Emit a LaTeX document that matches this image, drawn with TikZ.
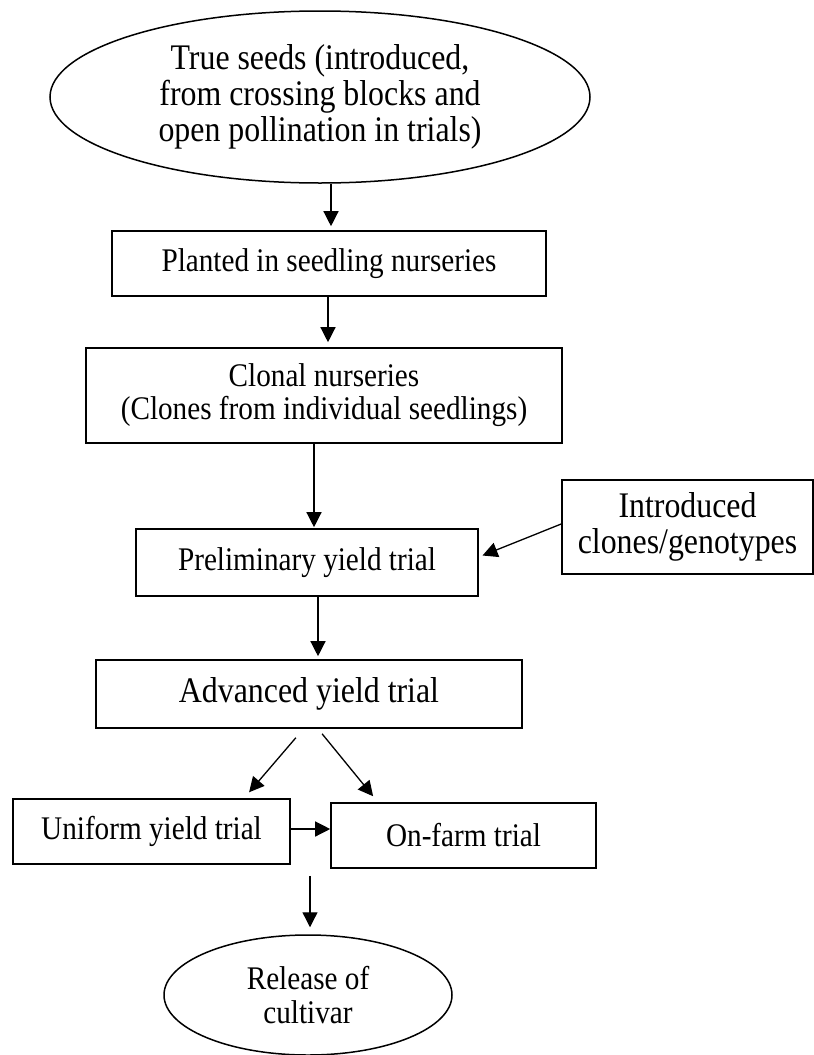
\documentclass[tikz,border=0pt]{standalone}
\usepackage{fontspec}
\setmainfont{Liberation Serif}[FakeStretch=0.885]
\usetikzlibrary{shapes.geometric,arrows.meta}
\begin{document}
\begin{tikzpicture}[x=1pt,y=-1pt,
  box/.style={draw,line width=1.6pt,rectangle,inner sep=0pt,align=center,font=\fontsize{33}{33}\selectfont},
  bigbox/.style={box,font=\fontsize{36}{36}\selectfont},
  oval/.style={draw,line width=1.5pt,ellipse,inner sep=0pt,align=center},
  arr/.style={-{Triangle[length=15pt,width=15pt]},line width=1.3pt}]
\useasboundingbox (0,0) rectangle (814,1055);
% nodes
\node[oval,minimum width=540pt,minimum height=172pt,font=\fontsize{36}{36}\selectfont] (seeds) at (320,97)
  {True seeds (introduced,\\from crossing blocks and\\open pollination in trials)};
\node[box,minimum width=434pt,minimum height=65pt] (plant) at (329,263.5) {Planted in seedling nurseries};
\node[box,minimum width=476pt,minimum height=95pt] (clonal) at (324,395.5) {Clonal nurseries\\(Clones from individual seedlings)};
\node[box,minimum width=342pt,minimum height=67pt] (prelim) at (307,562.5) {Preliminary yield trial};
\node[bigbox,minimum width=251pt,minimum height=94pt] (intro) at (687.5,527) {Introduced\\clones/genotypes};
\node[bigbox,minimum width=426pt,minimum height=68pt] (adv) at (309,694) {Advanced yield trial};
\node[box,minimum width=277pt,minimum height=65pt] (unif) at (151.5,831.5) {Uniform yield trial};
\node[box,minimum width=265pt,minimum height=65pt] (farm) at (463.5,835.5) {On-farm trial};
\node[oval,minimum width=288pt,minimum height=120pt,font=\fontsize{33}{34}\selectfont] (rel) at (308,995) {Release of\\cultivar};
% connectors
\draw[arr,shorten >=4pt] (seeds.south -| 331,0) -- (plant.north -| 331,0);
\draw[arr,shorten >=5pt] (plant.south -| 328,0) -- (clonal.north -| 328,0);
\draw[arr,shorten >=1pt] (clonal.south -| 314,0) -- (prelim.north -| 314,0);
\draw[arr,shorten >=4pt] (intro.west |- 0,524) -- (prelim.east |- 0,557);
\draw[arr,shorten >=3pt] (prelim.south -| 318,0) -- (adv.north -| 318,0);
\draw[arr,shorten <=11.7pt,shorten >=7.8pt] (adv.south -| 303.5,0) -- (unif.north -| 244,0);
\draw[arr,shorten <=6.4pt,shorten >=7.7pt] (adv.south -| 318,0) -- (farm.north -| 378,0);
\draw[arr] (unif.east |- 0,829) -- (farm.west |- 0,829);
\draw[arr,shorten <=7pt,shorten >=7pt] (farm.south -| 310,0) -- (rel.north -| 310,0);
\end{tikzpicture}
\end{document}
